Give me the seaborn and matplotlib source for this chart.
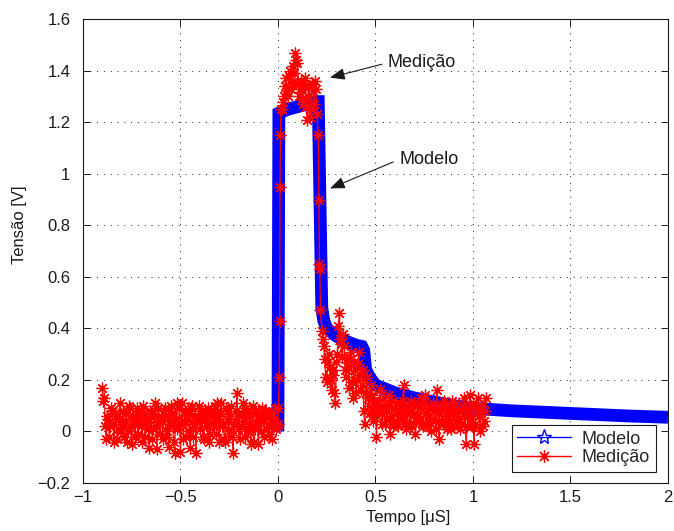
import numpy as np
import pandas as pd
import matplotlib
matplotlib.use("Agg")
import matplotlib.pyplot as plt
from matplotlib.lines import Line2D
from matplotlib.patches import ArrowStyle
import seaborn as sns

# ---------------- data ----------------
# Modelo (model curve)
modelo_t = [0.0, 0.005, 0.02, 0.05, 0.10, 0.15, 0.20, 0.207, 0.225, 0.235, 0.25, 0.30,
            0.35, 0.40, 0.43, 0.44, 0.45, 0.47, 0.50, 0.60, 0.70, 0.80, 0.90, 1.00,
            1.20, 1.50, 1.80, 2.00]
modelo_v = [0.0, 1.235, 1.24, 1.25, 1.26, 1.27, 1.28, 1.28, 0.48, 0.43, 0.40, 0.37,
            0.35, 0.335, 0.33, 0.315, 0.24, 0.21, 0.18, 0.15, 0.13, 0.115, 0.10, 0.09,
            0.08, 0.07, 0.06, 0.055]

# Medição (measurement) - baseline before the pulse, two interleaved sample sets
pre_t0, pre_dt = -0.90, 0.01
pre_v = [0.17, 0.13, -0.03, 0.05, 0.02, 0.08, -0.04, 0.06, 0.01, 0.11,
         0.03, -0.02, 0.07, 0.00, 0.09, -0.05, 0.04, 0.06, -0.01, 0.08,
         0.02, 0.10, -0.02, 0.05, -0.065, 0.07, 0.01, 0.11, -0.07, 0.04,
         0.06, -0.03, 0.09, 0.00, -0.06, 0.10, 0.03, -0.085, 0.11, 0.02,
         -0.08, 0.11, 0.04, -0.02, 0.07, -0.065, 0.10, 0.03, -0.085, 0.06,
         0.01, 0.08, -0.03, 0.05, 0.09, -0.01, 0.06, 0.02, 0.07, 0.11,
         -0.04, 0.11, 0.03, -0.04, 0.08, 0.00, 0.10, -0.085, 0.04, 0.15,
         0.06, 0.02, 0.11, -0.02, 0.08, 0.03, -0.05, 0.10, 0.01, 0.07,
         -0.05, 0.04, 0.09, -0.02, 0.075, 0.02, 0.06, -0.03, 0.05, 0.01]
pre2_t0 = -0.895
pre2_v = [0.12, 0.02, 0.06, -0.02, 0.09, 0.03, 0.07, -0.03, 0.05, 0.00,
          0.08, 0.04, -0.04, 0.10, 0.02, 0.06, -0.02, 0.09, 0.03, 0.05,
          -0.04, 0.07, 0.04, 0.01, 0.08, -0.03, 0.06, 0.02, 0.09, -0.01,
          0.04, 0.08, -0.02, 0.06, 0.03, 0.07, -0.04, 0.05, 0.01, 0.09,
          0.03, -0.03, 0.08, 0.05, 0.00, 0.09, -0.02, 0.06, 0.04, 0.10,
          0.05, -0.02, 0.07, 0.02, -0.04, 0.08, 0.03, 0.10, -0.01, 0.05,
          0.07, 0.02, -0.03, 0.09, 0.04, 0.06, -0.02, 0.03, 0.08, 0.01,
          -0.03, 0.07, 0.04, 0.09, 0.00, 0.06, 0.02, -0.04, 0.08, 0.03,
          0.06, 0.00, 0.05, 0.08, 0.01, -0.01, 0.07, 0.03, 0.09, 0.02]
# rising edge, plateau and falling edge
pulse_t = [0.000, 0.003, 0.006, 0.009, 0.011, 0.013, 0.015,
           0.02, 0.03, 0.04, 0.05, 0.06, 0.07, 0.08, 0.09, 0.10, 0.11,
           0.12, 0.13, 0.14, 0.15, 0.16, 0.17, 0.18, 0.19, 0.20,
           0.207, 0.210, 0.213, 0.215, 0.218]
pulse_v = [0.03, 0.09, 0.21, 0.43, 0.95, 1.15, 1.25,
           1.25, 1.30, 1.37, 1.30, 1.40, 1.35, 1.39, 1.47, 1.43, 1.30,
           1.36, 1.27, 1.37, 1.21, 1.34, 1.25, 1.32, 1.36, 1.23,
           1.15, 0.90, 0.65, 0.63, 0.47]
pulse2_t = [0.025, 0.035, 0.045, 0.055, 0.065, 0.075, 0.085, 0.095, 0.105,
            0.115, 0.125, 0.135, 0.145, 0.155, 0.165, 0.175, 0.185, 0.195]
pulse2_v = [1.28, 1.34, 1.32, 1.38, 1.33, 1.42, 1.36, 1.44, 1.35,
            1.33, 1.29, 1.34, 1.26, 1.30, 1.22, 1.35, 1.27, 1.33]
# tail after the pulse, two interleaved sample sets
tail_t0, tail_dt = 0.225, 0.01
tail_v = [0.39, 0.33, 0.21, 0.27, 0.25, 0.16, 0.24, 0.11, 0.30, 0.46,
          0.34, 0.38, 0.24, 0.28, 0.17, 0.31, 0.13, 0.24, 0.20, 0.31,
          0.16, 0.24, 0.03, 0.21, 0.10, 0.18, 0.06, 0.12, -0.02, 0.09,
          0.16, 0.03, 0.13, 0.05, 0.10, -0.01, 0.12, 0.04, 0.08, 0.02,
          0.11, 0.05, 0.18, 0.01, 0.09, 0.03, 0.12, 0.06, -0.01, 0.10,
          0.04, 0.13, 0.02, 0.14, 0.05, 0.09, 0.00, 0.11, 0.04, 0.16,
          -0.03, 0.08, 0.03, 0.10, 0.01, 0.07, 0.04, 0.12, 0.02, 0.09,
          0.05, 0.01, 0.08, 0.13, -0.05, 0.06, 0.14, 0.02, -0.05, 0.09,
          0.13, 0.00, 0.10, 0.04, 0.13]
tail2_t0 = 0.23
tail2_v = [0.36, 0.28, 0.19, 0.30, 0.20, 0.22, 0.15, 0.27, 0.41, 0.36,
           0.29, 0.33, 0.21, 0.25, 0.28, 0.19, 0.27, 0.15, 0.26, 0.22,
           0.18, 0.08, 0.15, 0.13, 0.07, 0.14, 0.04, 0.10, 0.06, 0.12,
           0.07, 0.10, 0.03, 0.08, 0.14, 0.06, 0.02, 0.09, 0.11, 0.05,
           0.08, 0.12, 0.03, 0.07, 0.10, 0.02, 0.08, 0.11, 0.04, 0.06,
           0.09, 0.03, 0.11, 0.07, 0.02, 0.10, 0.05, 0.08, 0.01, 0.07,
           0.10, 0.04, 0.12, 0.06, 0.03, 0.09, 0.01, 0.07, 0.11, 0.04,
           0.08, 0.03, 0.10, 0.06, 0.02, 0.09, 0.05, 0.11, 0.03, 0.07,
           0.06, 0.10, 0.02, 0.08]

xticks = [-1, -0.5, 0, 0.5, 1, 1.5, 2]
yticks = [-0.2, 0, 0.2, 0.4, 0.6, 0.8, 1.0, 1.2, 1.4, 1.6]
xtick_labels = ["\u22121", "\u22120.5", "0", "0.5", "1", "1.5", "2"]
ytick_labels = ["\u22120.2", "0", "0.2", "0.4", "0.6", "0.8", "1", "1.2", "1.4", "1.6"]

med_t = (list(pre_t0 + pre_dt * np.arange(len(pre_v)))
         + list(pre2_t0 + pre_dt * np.arange(len(pre2_v)))
         + pulse_t + pulse2_t
         + list(tail_t0 + tail_dt * np.arange(len(tail_v)))
         + list(tail2_t0 + tail_dt * np.arange(len(tail2_v))))
med_v = pre_v + pre2_v + pulse_v + pulse2_v + tail_v + tail2_v

df_mod = pd.DataFrame({"t": modelo_t, "v": modelo_v})
df_med = pd.DataFrame({"t": med_t, "v": med_v}).sort_values("t", kind="stable")

# ---------------- style ----------------
sns.set_theme(style="white")
plt.rcParams["font.family"] = ["Liberation Sans", "DejaVu Sans"]
plt.rcParams["axes.unicode_minus"] = True

fig = plt.figure(figsize=(6.74, 5.31), dpi=100)
ax = fig.add_axes([0.123, 0.0904, 0.868, 0.8736])

sns.lineplot(data=df_mod, x="t", y="v", ax=ax, sort=False, estimator=None,
             color="#0000ff", linewidth=9.2, solid_joinstyle="miter",
             solid_capstyle="butt", legend=False, zorder=2)
sns.lineplot(data=df_med, x="t", y="v", ax=ax, sort=False, estimator=None,
             color="#ff0000", linewidth=0.9, marker=(8, 2, 0), markersize=8.5,
             markeredgewidth=0.9, markeredgecolor="#ff0000", legend=False,
             zorder=3)

ax.set_xlim(-1, 2)
ax.set_ylim(-0.2, 1.6)
ax.set_xticks(xticks)
ax.set_xticklabels(xtick_labels)
ax.set_yticks(yticks)
ax.set_yticklabels(ytick_labels)
ax.tick_params(direction="in", length=5, width=0.7, colors="k", labelsize=12,
               top=True, right=True, bottom=True, left=True)
ax.tick_params(axis="y", pad=9)
ax.tick_params(axis="x", pad=5)
ax.grid(True, color="k", linestyle=(0, (1, 6)), linewidth=0.7)
for s in ax.spines.values():
    s.set_color("k")
    s.set_linewidth(0.8)

ax.set_xlabel("Tempo [\u03bcS]", fontsize=12, color="k")
ax.set_ylabel("Tensão [V]", fontsize=12, color="k")
ax.xaxis.set_label_coords(0.556, -0.058)
ax.yaxis.set_label_coords(-0.095, 0.556)

arrow = dict(arrowstyle=ArrowStyle("-|>", head_length=0.75, head_width=0.3),
             color="k", lw=0.8, mutation_scale=12, relpos=(0.0, 0.5),
             shrinkA=2, shrinkB=0)
ax.annotate("Medição", xy=(0.267, 1.373), xytext=(0.564, 1.431),
            ha="left", va="center", fontsize=13, color="k", arrowprops=arrow)
ax.annotate("Modelo", xy=(0.267, 0.943), xytext=(0.621, 1.055),
            ha="left", va="center", fontsize=13, color="k", arrowprops=arrow)

handles = [
    Line2D([0], [0], color="#0000ff", lw=1, marker="*", markersize=11,
           markerfacecolor="none", markeredgecolor="#0000ff", markeredgewidth=1),
    Line2D([0], [0], color="#ff0000", lw=1, marker=(8, 2, 0), markersize=9,
           markeredgecolor="#ff0000", markeredgewidth=0.9),
]
leg = ax.legend(handles, ["Modelo", "Medição"], loc="lower right",
                bbox_to_anchor=(0.979, 0.024), borderaxespad=0, fontsize=13,
                fancybox=False, framealpha=1, edgecolor="k", handlelength=3.0,
                labelspacing=0.1, borderpad=0.3, handletextpad=0.6)
leg.get_frame().set_linewidth(0.8)

fig.savefig("out.png", dpi=100)
